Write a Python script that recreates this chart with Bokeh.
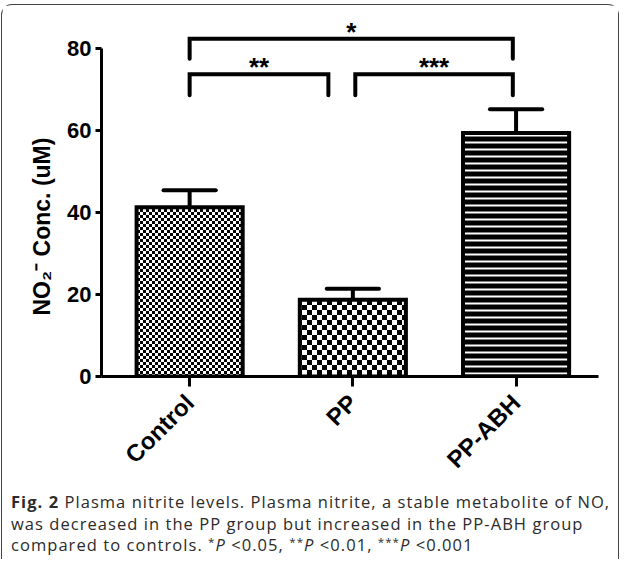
import numpy as np
from bokeh.plotting import figure
from bokeh.models import (Range1d, FixedTicker, Div, CanvasTexture, Title)
from bokeh.layouts import column
from bokeh.embed import file_html
from bokeh.resources import INLINE
from bokeh.core.properties import value

# ---- data ----
groups = ["Control", "PP", "PP-ABH"]
means = [41.3, 18.7, 59.4]
sems = [4.1, 2.7, 5.8]
y_ticks = [0, 20, 40, 60, 80]

# significance comparisons (group positions 1..3)
sig_labels = ["*", "**", "***"]
sig_left = [1.0, 1.0, 2.015]
sig_right = [2.98, 1.85, 2.98]
sig_top = [82.4, 73.7, 73.7]
sig_leg = [77.5, 68.6, 68.6]

xs = np.arange(1, len(groups) + 1, dtype=float)
upper = np.array(means) + np.array(sems)

FONT = "Liberation Sans"

p = figure(width=616, height=486, x_range=Range1d(0.46, 3.505), y_range=Range1d(0, 90),
           output_backend="svg", toolbar_location=None,
           min_border_left=99, min_border_right=20, min_border_top=2, min_border_bottom=115)
p.outline_line_color = None
p.xgrid.visible = False
p.ygrid.visible = False
p.background_fill_color = "white"
p.border_fill_color = "white"


def checker(period):
    half = period // 2
    code = f"""
var c = ctx.canvas;
c.width = {period}; c.height = {period};
ctx.setTransform(1, 0, 0, 1, 0, 0);
ctx.clearRect(0, 0, {period}, {period});
ctx.fillStyle = '#000000';
ctx.fillRect(0, 0, {half}, {half});
ctx.fillRect({half}, {half}, {period - half}, {period - half});
"""
    return CanvasTexture(code=code)


tex = {"fine": checker(6), "coarse": checker(10)}

bar_w = 0.65
styles = [
    dict(fill_color="white", hatch_pattern=value("fine"), hatch_color="black", hatch_extra=tex),
    dict(fill_color="white", hatch_pattern=value("coarse"), hatch_color="black", hatch_extra=tex),
    dict(fill_color="black", hatch_pattern="horizontal_line", hatch_color="white", hatch_scale=7, hatch_weight=2),
]
for i in range(len(groups)):
    p.vbar(x=[xs[i]], top=[means[i]], bottom=0, width=bar_w, line_color="black",
           line_width=4, line_join="miter", **styles[i])

# error bars (upper only)
p.segment(x0=xs, y0=means, x1=xs, y1=upper, line_color="black", line_width=4)
p.segment(x0=xs - 0.16, y0=upper, x1=xs + 0.16, y1=upper, line_color="black", line_width=4, line_cap="round")

# significance brackets
for l, r, t, g, s in zip(sig_left, sig_right, sig_top, sig_leg, sig_labels):
    p.multi_line(xs=[[l, l, r, r]], ys=[[g, t, t, g]], line_color="black", line_width=4,
                 line_cap="round", line_join="miter")
    p.text(x=[(l + r) / 2], y=[t], text=[s], text_align="center", text_baseline="alphabetic",
           y_offset=-7, text_font=value(FONT), text_font_style="bold", text_font_size="26px",
           text_color="black")

# axes
ya = p.yaxis[0]
ya.ticker = FixedTicker(ticks=y_ticks)
ya.bounds = (0, 80)
ya.axis_line_width = 3
ya.major_tick_line_width = 3
ya.major_tick_out = 6
ya.major_tick_in = 0
ya.minor_tick_line_color = None
ya.major_label_text_font = FONT
ya.major_label_text_font_style = "bold"
ya.major_label_text_font_size = "22px"
ya.major_label_text_color = "black"
ya.major_label_standoff = 4

ylab = Title(text="NO\u2082\u207B Conc. (uM)", align="left", offset=61, standoff=20,
             text_font=FONT, text_font_style="bold", text_font_size="23px", text_color="black")
p.add_layout(ylab, "left")

xa = p.xaxis[0]
xa.ticker = FixedTicker(ticks=list(xs))
xa.major_label_overrides = {float(x): g for x, g in zip(xs, groups)}
xa.major_label_orientation = np.pi / 4
xa.axis_line_width = 3
xa.major_tick_line_width = 3
xa.major_tick_out = 10
xa.major_tick_in = 0
xa.minor_tick_line_color = None
xa.major_label_text_font = FONT
xa.major_label_text_font_style = "bold"
xa.major_label_text_font_size = "24px"
xa.major_label_text_color = "black"
xa.major_label_standoff = 12

sup = '<span style="font-size:0.7em; vertical-align:0.4em; line-height:1;">'
caption = Div(
    text=("<b>Fig. 2</b> Plasma nitrite levels. Plasma nitrite, a stable metabolite of NO,<br>"
          "was decreased in the PP group but increased in the PP-ABH group<br>"
          f"compared to controls. {sup}*</span><i>P</i> &lt;0.05, {sup}**</span><i>P</i> &lt;0.01, "
          f"{sup}***</span><i>P</i> &lt;0.001"),
    width=616, height=68, margin=(0, 0, 0, 0),
    styles={"font-family": "'Open Sans'", "font-size": "16.5px", "line-height": "21.5px",
            "letter-spacing": "1.05px", "color": "#2b2b2b", "white-space": "nowrap",
            "padding-left": "9px"})

layout = column(p, caption, spacing=0,
                styles={"border-top": "1px solid #444", "border-left": "1px solid #444",
                        "border-right": "1px solid #444", "border-radius": "11px 11px 0 0",
                        "position": "relative", "top": "4px", "left": "1px"})

open("out.html", "w").write(file_html(layout, INLINE))
